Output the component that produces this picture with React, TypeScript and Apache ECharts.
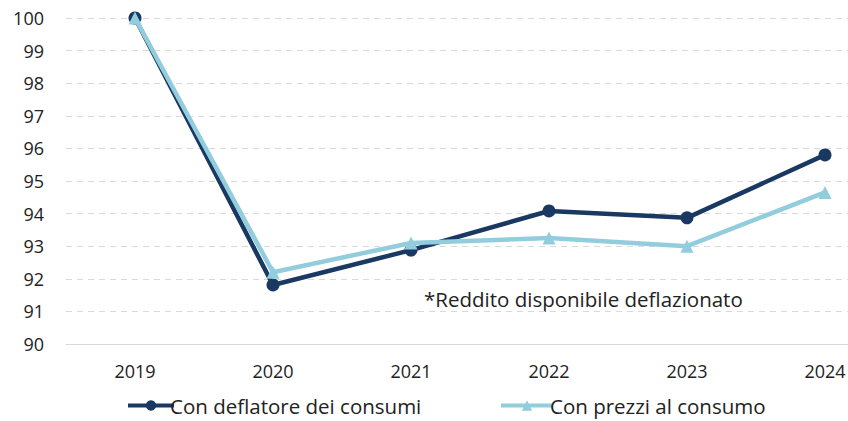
import React, { useEffect, useRef } from "react";
import * as echarts from "echarts";

const years = ["2019", "2020", "2021", "2022", "2023", "2024"];
const deflatore = [100, 91.81, 92.88, 94.08, 93.87, 95.8];
const prezzi = [100, 92.2, 93.1, 93.25, 93.0, 94.65];
const seriesNames = ["Con deflatore dei consumi", "Con prezzi al consumo"];
const note = "*Reddito disponibile deflazionato";

const DARK = "#1A3962";
const LIGHT = "#92CDDD";
const FONT = "Open Sans";

export default function App() {
  const ref = useRef<HTMLDivElement>(null);
  useEffect(() => {
    if (!ref.current) return;
    const chart = echarts.init(ref.current, null, { renderer: "svg" });
    chart.setOption({
      animation: false,
      textStyle: { fontFamily: FONT },
      grid: { left: 66, width: 828, top: 18, bottom: 77, outerBoundsMode: "none", containLabel: false },
      xAxis: {
        type: "category",
        data: years,
        boundaryGap: true,
        axisLine: { lineStyle: { color: "#D9D9D9", width: 1 } },
        axisTick: { show: false },
        axisLabel: { color: "#222", fontSize: 18, fontFamily: FONT, margin: 18 },
      },
      yAxis: {
        type: "value",
        min: 90,
        max: 100,
        interval: 1,
        axisLine: { show: false },
        axisTick: { show: false },
        axisLabel: { color: "#222", fontSize: 18, fontFamily: FONT, margin: 22 },
        splitLine: { lineStyle: { color: "#D9D9D9", type: [6, 5], width: 1 } },
      },
      legend: [
        {
          data: [seriesNames[0]],
          left: 124,
          top: 393,
          padding: 2,
          itemWidth: 46,
          itemHeight: 13,
          lineStyle: { width: 4 },
          textStyle: { fontSize: 20.5, lineHeight: 20, color: "#222", fontFamily: FONT, padding: [0, 0, 0, -9] },
        },
        {
          data: [seriesNames[1]],
          left: 497,
          top: 393,
          padding: 2,
          itemWidth: 52,
          itemHeight: 13,
          lineStyle: { width: 4 },
          textStyle: { fontSize: 20.5, lineHeight: 20, color: "#222", fontFamily: FONT, padding: [0, 0, 0, -8] },
        },
      ],
      graphic: [
        {
          type: "text",
          left: 424,
          top: 288,
          style: { text: note, fontSize: 20.5, fontFamily: FONT, fill: "#222" },
        },
      ],
      series: [
        {
          name: seriesNames[0],
          type: "line",
          data: deflatore,
          symbol: "circle",
          symbolSize: 13,
          lineStyle: { color: DARK, width: 4.5 },
          itemStyle: { color: DARK },
          z: 2,
        },
        {
          name: seriesNames[1],
          type: "line",
          data: prezzi,
          symbol: "triangle",
          symbolSize: 13,
          lineStyle: { color: LIGHT, width: 4.5 },
          itemStyle: { color: LIGHT },
          z: 3,
        },
      ],
    });
    return () => chart.dispose();
  }, []);
  return <div ref={ref} style={{ width: 848, height: 421, position: "absolute", left: 0, top: 0 }} />;
}
